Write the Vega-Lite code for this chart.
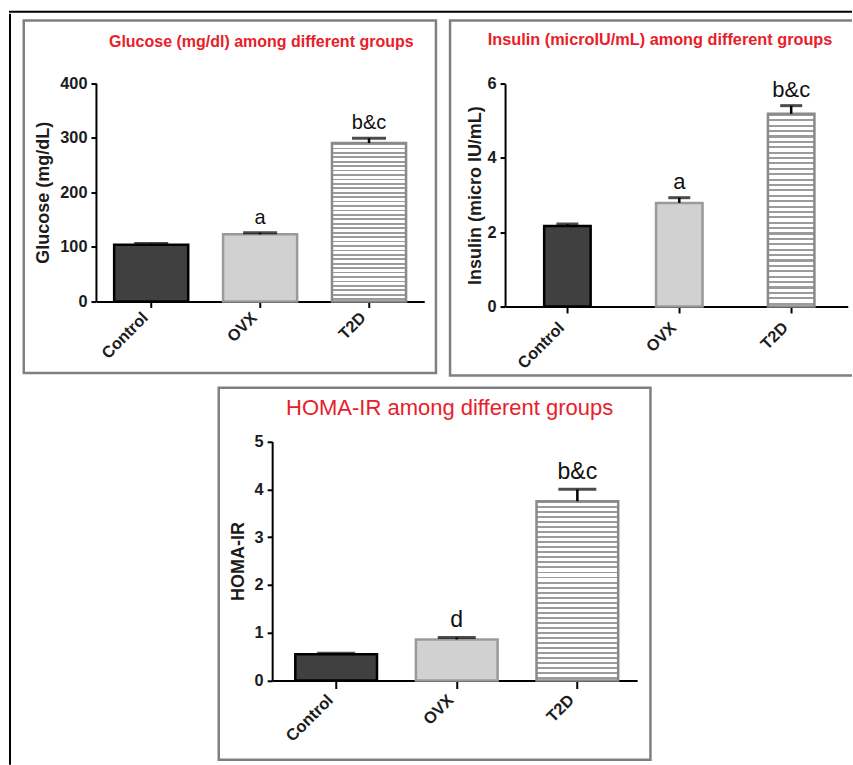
{
  "$schema": "https://vega.github.io/schema/vega-lite/v6.json",
  "background": "white",
  "padding": {"left": 9, "top": 10.7, "right": -9, "bottom": 0},
  "data": {"values": [
    {"panel": "glucose", "group": "Control", "mean": 104, "upper": 106, "label": ""},
    {"panel": "glucose", "group": "OVX", "mean": 123, "upper": 126, "label": "a"},
    {"panel": "glucose", "group": "T2D", "mean": 290, "upper": 299, "label": "b&c"},
    {"panel": "insulin", "group": "Control", "mean": 2.17, "upper": 2.22, "label": ""},
    {"panel": "insulin", "group": "OVX", "mean": 2.79, "upper": 2.93, "label": "a"},
    {"panel": "insulin", "group": "T2D", "mean": 5.19, "upper": 5.41, "label": "b&c"},
    {"panel": "homa", "group": "Control", "mean": 0.55, "upper": 0.57, "label": ""},
    {"panel": "homa", "group": "OVX", "mean": 0.86, "upper": 0.9, "label": "d"},
    {"panel": "homa", "group": "T2D", "mean": 3.75, "upper": 4.0, "label": "b&c"}
  ]},
  "config": {
    "font": "Liberation Sans",
    "view": {"stroke": null},
    "axis": {"domainColor": "#000", "domainWidth": 2, "tickColor": "#000", "tickWidth": 2, "grid": false,
             "labelFont": "Liberation Sans", "labelFontWeight": "bold", "labelColor": "#1c1c1c", "labelFontSize": 16.3,
             "titleFont": "Liberation Sans", "titleFontWeight": "bold", "titleColor": "#1c1c1c"},
    "axisX": {"labelAngle": -45, "labelAlign": "right", "labelBaseline": "bottom", "tickSize": 6, "labelPadding": 12.9},
    "axisY": {"tickSize": 5, "labelPadding": 4},
    "bar": {"stroke": "#8a8a8a", "strokeWidth": 2.5, "fill": {"gradient": "linear", "x1": 0, "y1": 0, "x2": 0, "y2": 1, "stops": [
        {"offset": 0, "color": "#9b9b9b"}, {"offset": 0.011, "color": "#9b9b9b"}, {"offset": 0.011, "color": "#ffffff"}, {"offset": 0.028, "color": "#ffffff"},
        {"offset": 0.028, "color": "#9b9b9b"}, {"offset": 0.039, "color": "#9b9b9b"}, {"offset": 0.039, "color": "#ffffff"}, {"offset": 0.056, "color": "#ffffff"},
        {"offset": 0.056, "color": "#9b9b9b"}, {"offset": 0.067, "color": "#9b9b9b"}, {"offset": 0.067, "color": "#ffffff"}, {"offset": 0.084, "color": "#ffffff"},
        {"offset": 0.084, "color": "#9b9b9b"}, {"offset": 0.095, "color": "#9b9b9b"}, {"offset": 0.095, "color": "#ffffff"}, {"offset": 0.112, "color": "#ffffff"},
        {"offset": 0.112, "color": "#9b9b9b"}, {"offset": 0.123, "color": "#9b9b9b"}, {"offset": 0.123, "color": "#ffffff"}, {"offset": 0.14, "color": "#ffffff"},
        {"offset": 0.14, "color": "#9b9b9b"}, {"offset": 0.151, "color": "#9b9b9b"}, {"offset": 0.151, "color": "#ffffff"}, {"offset": 0.168, "color": "#ffffff"},
        {"offset": 0.168, "color": "#9b9b9b"}, {"offset": 0.179, "color": "#9b9b9b"}, {"offset": 0.179, "color": "#ffffff"}, {"offset": 0.196, "color": "#ffffff"},
        {"offset": 0.196, "color": "#9b9b9b"}, {"offset": 0.207, "color": "#9b9b9b"}, {"offset": 0.207, "color": "#ffffff"}, {"offset": 0.224, "color": "#ffffff"},
        {"offset": 0.224, "color": "#9b9b9b"}, {"offset": 0.235, "color": "#9b9b9b"}, {"offset": 0.235, "color": "#ffffff"}, {"offset": 0.252, "color": "#ffffff"},
        {"offset": 0.252, "color": "#9b9b9b"}, {"offset": 0.263, "color": "#9b9b9b"}, {"offset": 0.263, "color": "#ffffff"}, {"offset": 0.28, "color": "#ffffff"},
        {"offset": 0.28, "color": "#9b9b9b"}, {"offset": 0.291, "color": "#9b9b9b"}, {"offset": 0.291, "color": "#ffffff"}, {"offset": 0.308, "color": "#ffffff"},
        {"offset": 0.308, "color": "#9b9b9b"}, {"offset": 0.319, "color": "#9b9b9b"}, {"offset": 0.319, "color": "#ffffff"}, {"offset": 0.336, "color": "#ffffff"},
        {"offset": 0.336, "color": "#9b9b9b"}, {"offset": 0.347, "color": "#9b9b9b"}, {"offset": 0.347, "color": "#ffffff"}, {"offset": 0.364, "color": "#ffffff"},
        {"offset": 0.364, "color": "#9b9b9b"}, {"offset": 0.375, "color": "#9b9b9b"}, {"offset": 0.375, "color": "#ffffff"}, {"offset": 0.392, "color": "#ffffff"},
        {"offset": 0.392, "color": "#9b9b9b"}, {"offset": 0.403, "color": "#9b9b9b"}, {"offset": 0.403, "color": "#ffffff"}, {"offset": 0.42, "color": "#ffffff"},
        {"offset": 0.42, "color": "#9b9b9b"}, {"offset": 0.431, "color": "#9b9b9b"}, {"offset": 0.431, "color": "#ffffff"}, {"offset": 0.448, "color": "#ffffff"},
        {"offset": 0.448, "color": "#9b9b9b"}, {"offset": 0.459, "color": "#9b9b9b"}, {"offset": 0.459, "color": "#ffffff"}, {"offset": 0.476, "color": "#ffffff"},
        {"offset": 0.476, "color": "#9b9b9b"}, {"offset": 0.487, "color": "#9b9b9b"}, {"offset": 0.487, "color": "#ffffff"}, {"offset": 0.504, "color": "#ffffff"},
        {"offset": 0.504, "color": "#9b9b9b"}, {"offset": 0.515, "color": "#9b9b9b"}, {"offset": 0.515, "color": "#ffffff"}, {"offset": 0.532, "color": "#ffffff"},
        {"offset": 0.532, "color": "#9b9b9b"}, {"offset": 0.543, "color": "#9b9b9b"}, {"offset": 0.543, "color": "#ffffff"}, {"offset": 0.56, "color": "#ffffff"},
        {"offset": 0.56, "color": "#9b9b9b"}, {"offset": 0.571, "color": "#9b9b9b"}, {"offset": 0.571, "color": "#ffffff"}, {"offset": 0.588, "color": "#ffffff"},
        {"offset": 0.588, "color": "#9b9b9b"}, {"offset": 0.599, "color": "#9b9b9b"}, {"offset": 0.599, "color": "#ffffff"}, {"offset": 0.616, "color": "#ffffff"},
        {"offset": 0.616, "color": "#9b9b9b"}, {"offset": 0.627, "color": "#9b9b9b"}, {"offset": 0.627, "color": "#ffffff"}, {"offset": 0.644, "color": "#ffffff"},
        {"offset": 0.644, "color": "#9b9b9b"}, {"offset": 0.655, "color": "#9b9b9b"}, {"offset": 0.655, "color": "#ffffff"}, {"offset": 0.672, "color": "#ffffff"},
        {"offset": 0.672, "color": "#9b9b9b"}, {"offset": 0.683, "color": "#9b9b9b"}, {"offset": 0.683, "color": "#ffffff"}, {"offset": 0.7, "color": "#ffffff"},
        {"offset": 0.7, "color": "#9b9b9b"}, {"offset": 0.711, "color": "#9b9b9b"}, {"offset": 0.711, "color": "#ffffff"}, {"offset": 0.728, "color": "#ffffff"},
        {"offset": 0.728, "color": "#9b9b9b"}, {"offset": 0.739, "color": "#9b9b9b"}, {"offset": 0.739, "color": "#ffffff"}, {"offset": 0.756, "color": "#ffffff"},
        {"offset": 0.756, "color": "#9b9b9b"}, {"offset": 0.767, "color": "#9b9b9b"}, {"offset": 0.767, "color": "#ffffff"}, {"offset": 0.784, "color": "#ffffff"},
        {"offset": 0.784, "color": "#9b9b9b"}, {"offset": 0.795, "color": "#9b9b9b"}, {"offset": 0.795, "color": "#ffffff"}, {"offset": 0.812, "color": "#ffffff"},
        {"offset": 0.812, "color": "#9b9b9b"}, {"offset": 0.823, "color": "#9b9b9b"}, {"offset": 0.823, "color": "#ffffff"}, {"offset": 0.84, "color": "#ffffff"},
        {"offset": 0.84, "color": "#9b9b9b"}, {"offset": 0.851, "color": "#9b9b9b"}, {"offset": 0.851, "color": "#ffffff"}, {"offset": 0.868, "color": "#ffffff"},
        {"offset": 0.868, "color": "#9b9b9b"}, {"offset": 0.879, "color": "#9b9b9b"}, {"offset": 0.879, "color": "#ffffff"}, {"offset": 0.896, "color": "#ffffff"},
        {"offset": 0.896, "color": "#9b9b9b"}, {"offset": 0.907, "color": "#9b9b9b"}, {"offset": 0.907, "color": "#ffffff"}, {"offset": 0.924, "color": "#ffffff"},
        {"offset": 0.924, "color": "#9b9b9b"}, {"offset": 0.935, "color": "#9b9b9b"}, {"offset": 0.935, "color": "#ffffff"}, {"offset": 0.952, "color": "#ffffff"},
        {"offset": 0.952, "color": "#9b9b9b"}, {"offset": 0.963, "color": "#9b9b9b"}, {"offset": 0.963, "color": "#ffffff"}, {"offset": 0.98, "color": "#ffffff"},
        {"offset": 0.98, "color": "#9b9b9b"}, {"offset": 0.991, "color": "#9b9b9b"}, {"offset": 0.991, "color": "#ffffff"}, {"offset": 1, "color": "#ffffff"}
      ]}}
  },
  "spacing": 0,
  "vconcat": [
    {"width": 850, "height": 0.001, "data": {"values": []}, "mark": "point", "view": {"stroke": "#000", "strokeWidth": 2}},
    {"spacing": 9.75, "hconcat": [
      {"width": 0.001, "height": 749, "data": {"values": []}, "mark": "point", "view": {"stroke": "#000", "strokeWidth": 2}},
      {"spacing": 9.1, "vconcat": [
        {"spacing": 2.85, "vconcat": [
          {"width": 1, "height": 0.001, "data": {"values": []}, "mark": "point"},
          {"spacing": 10.3, "hconcat": [
            {
              "width": 412.2, "height": 352.5,
              "view": {"stroke": "#808080", "strokeWidth": 2.5},
              "title": {"text": "Glucose (mg/dl) among different groups", "offset": -42, "baseline": "alphabetic", "dx": 31.4, "anchor": "middle", "frame": "group", "font": "Liberation Sans", "fontSize": 16, "fontWeight": "bold", "color": "#e8202a"},
              "transform": [{"filter": "datum.panel === 'glucose'"}],
              "encoding": {
                "x": {"field": "group", "type": "nominal", "sort": ["Control", "OVX", "T2D"], "title": null,
                      "scale": {"range": [72.2, 400.5], "paddingInner": 0.32, "paddingOuter": 0.167, "align": 0.5},
                      "axis": {"offset": -71.6, "labelFontSize": 16.3, "tickSize": 6, "labelPadding": 12.9}},
                "y": {"field": "mean", "type": "quantitative", "title": "Glucose (mg/dL)",
                      "scale": {"domain": [0, 400], "range": [280.9, 62.5], "nice": false},
                      "axis": {"offset": -72.2, "values": [0, 100, 200, 300, 400], "titleFontSize": 18, "titlePadding": 7.5}}
              },
              "layer": [
                {"transform": [{"filter": "datum.group !== 'T2D'"}], "mark": {"type": "bar", "strokeWidth": 2.5},
                 "encoding": {"fill": {"condition": {"test": "datum.group === 'Control'", "value": "#404040"}, "value": "#d1d1d1"},
                              "stroke": {"condition": {"test": "datum.group === 'Control'", "value": "#000000"}, "value": "#9a9a9a"}}},
                {"transform": [{"filter": "datum.group === 'T2D'"}], "mark": {"type": "bar"}},
                {"mark": {"type": "rule", "color": "#000", "strokeWidth": 2.5}, "encoding": {"y2": {"field": "upper"}}},
                {"mark": {"type": "tick", "color": "#000", "thickness": 3, "size": 34}, "encoding": {"y": {"field": "upper", "type": "quantitative", "title": "Glucose (mg/dL)"}}},
                {"mark": {"type": "text", "dy": -9, "baseline": "alphabetic", "fontSize": 20, "color": "#111", "font": "Liberation Sans"},
                 "encoding": {"y": {"field": "upper", "type": "quantitative", "title": "Glucose (mg/dL)"}, "text": {"field": "label"}}}
              ]
            },
            {
              "width": 408, "height": 354.9,
              "view": {"stroke": "#808080", "strokeWidth": 2.5},
              "title": {"text": "Insulin (microIU/mL) among different groups", "offset": -40.5, "baseline": "alphabetic", "dx": 6, "anchor": "middle", "frame": "group", "font": "Liberation Sans", "fontSize": 16.3, "fontWeight": "bold", "color": "#e8202a"},
              "transform": [{"filter": "datum.panel === 'insulin'"}],
              "encoding": {
                "x": {"field": "group", "type": "nominal", "sort": ["Control", "OVX", "T2D"], "title": null,
                      "scale": {"range": [55, 397.7], "paddingInner": 0.5845, "paddingOuter": 0.3236, "align": 0.54},
                      "axis": {"offset": -69, "labelFontSize": 16.3, "tickSize": 6.5, "labelPadding": 17.4}},
                "y": {"field": "mean", "type": "quantitative", "title": "Insulin (micro IU/mL)",
                      "scale": {"domain": [0, 6], "range": [285.9, 63.2], "nice": false},
                      "axis": {"offset": -55, "values": [0, 2, 4, 6], "titleFontSize": 18, "titlePadding": 2}}
              },
              "layer": [
                {"transform": [{"filter": "datum.group !== 'T2D'"}], "mark": {"type": "bar", "strokeWidth": 2.5},
                 "encoding": {"fill": {"condition": {"test": "datum.group === 'Control'", "value": "#404040"}, "value": "#d1d1d1"},
                              "stroke": {"condition": {"test": "datum.group === 'Control'", "value": "#000000"}, "value": "#9a9a9a"}}},
                {"transform": [{"filter": "datum.group === 'T2D'"}], "mark": {"type": "bar"}},
                {"mark": {"type": "rule", "color": "#000", "strokeWidth": 2.5}, "encoding": {"y2": {"field": "upper"}}},
                {"mark": {"type": "tick", "color": "#000", "thickness": 3, "size": 22}, "encoding": {"y": {"field": "upper", "type": "quantitative", "title": "Insulin (micro IU/mL)"}}},
                {"mark": {"type": "text", "dy": -9, "baseline": "alphabetic", "fontSize": 22, "color": "#111", "font": "Liberation Sans"},
                 "encoding": {"y": {"field": "upper", "type": "quantitative", "title": "Insulin (micro IU/mL)"}, "text": {"field": "label"}}}
              ]
            }
          ]}
        ]},
        {"spacing": 0, "hconcat": [
          {"width": 192.6, "height": 0.001, "data": {"values": []}, "mark": "point"},
          {
            "width": 431.7, "height": 372,
            "view": {"stroke": "#808080", "strokeWidth": 2.5},
            "title": {"text": "HOMA-IR among different groups", "offset": -49, "baseline": "alphabetic", "dx": 15, "anchor": "middle", "frame": "group", "font": "Liberation Sans", "fontSize": 22, "fontWeight": "normal", "color": "#e8202a"},
            "transform": [{"filter": "datum.panel === 'homa'"}],
            "encoding": {
              "x": {"field": "group", "type": "nominal", "sort": ["Control", "OVX", "T2D"], "title": null,
                    "scale": {"range": [53.4, 418.4], "paddingInner": 0.3226, "paddingOuter": 0.1745, "align": 0.55},
                    "axis": {"offset": -79.3, "labelFontSize": 16.5, "tickSize": 8, "labelPadding": 14.3}},
              "y": {"field": "mean", "type": "quantitative", "title": "HOMA-IR",
                    "scale": {"domain": [0, 5], "range": [292.7, 53.7], "nice": false},
                    "axis": {"offset": -53.4, "values": [0, 1, 2, 3, 4, 5], "titleFontSize": 18, "titlePadding": 6.2}}
            },
            "layer": [
              {"transform": [{"filter": "datum.group !== 'T2D'"}], "mark": {"type": "bar", "strokeWidth": 2.5},
               "encoding": {"fill": {"condition": {"test": "datum.group === 'Control'", "value": "#404040"}, "value": "#d1d1d1"},
                            "stroke": {"condition": {"test": "datum.group === 'Control'", "value": "#000000"}, "value": "#9a9a9a"}}},
              {"transform": [{"filter": "datum.group === 'T2D'"}], "mark": {"type": "bar"}},
              {"mark": {"type": "rule", "color": "#000", "strokeWidth": 2.5}, "encoding": {"y2": {"field": "upper"}}},
              {"mark": {"type": "tick", "color": "#000", "thickness": 3, "size": 38}, "encoding": {"y": {"field": "upper", "type": "quantitative", "title": "HOMA-IR"}}},
              {"mark": {"type": "text", "dy": -10, "baseline": "alphabetic", "fontSize": 23, "color": "#111", "font": "Liberation Sans"},
               "encoding": {"y": {"field": "upper", "type": "quantitative", "title": "HOMA-IR"}, "text": {"field": "label"}}}
            ]
          }
        ]}
      ]}
    ]}
  ]
}
